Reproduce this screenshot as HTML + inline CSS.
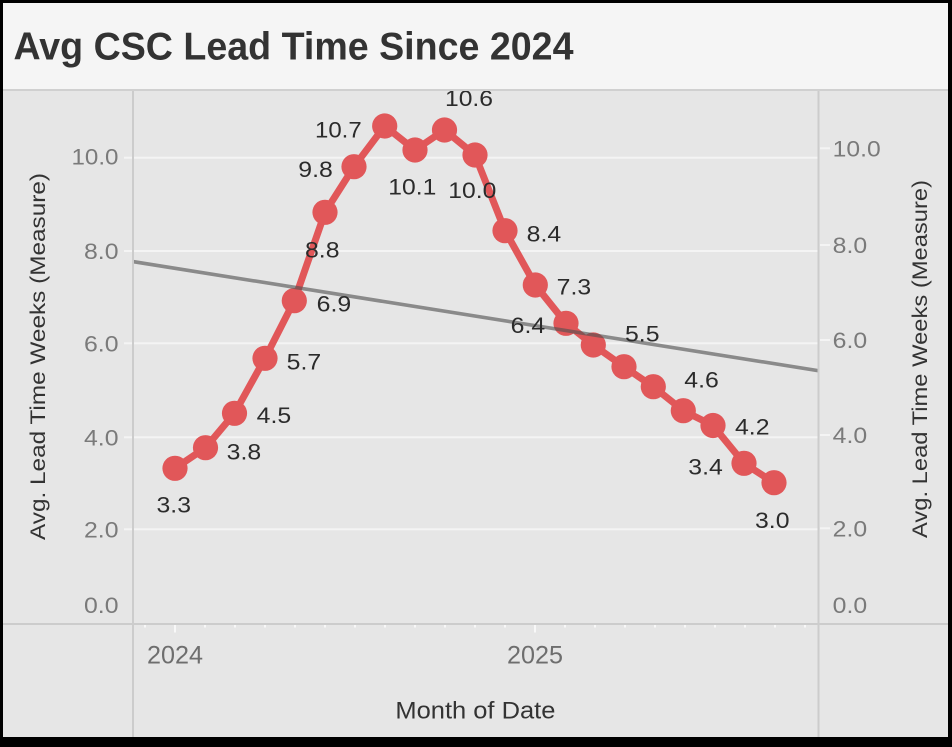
<!DOCTYPE html>
<html><head><meta charset="utf-8"><style>
html,body{margin:0;padding:0;background:#000;}
body{width:952px;height:747px;overflow:hidden;}
svg{display:block;}
text{font-family:"Liberation Sans",sans-serif;}
</style></head><body>
<svg width="952" height="747" viewBox="0 0 952 747" xmlns="http://www.w3.org/2000/svg">
<rect x="0" y="0" width="952" height="747" fill="#000"/>
<rect x="3" y="3" width="945" height="86" fill="#f5f5f5"/>
<rect x="3" y="89" width="945" height="2" fill="#d0d0d0"/>
<rect x="3" y="91" width="945" height="646" fill="#e6e6e6"/>
<text x="13.5" y="59.5" font-size="39" font-weight="bold" fill="#333" textLength="560" lengthAdjust="spacingAndGlyphs">Avg CSC Lead Time Since 2024</text>

<!-- gridlines -->
<g stroke="#f4f4f4" stroke-width="2">
<line x1="134" y1="157.7" x2="818" y2="157.7"/>
<line x1="134" y1="251" x2="818" y2="251"/>
<line x1="134" y1="343.3" x2="818" y2="343.3"/>
<line x1="134" y1="437.3" x2="818" y2="437.3"/>
<line x1="134" y1="529.3" x2="818" y2="529.3"/>
<!-- left ticks -->
<line x1="124" y1="157.7" x2="132" y2="157.7"/>
<line x1="124" y1="251" x2="132" y2="251"/>
<line x1="124" y1="343.3" x2="132" y2="343.3"/>
<line x1="124" y1="437.3" x2="132" y2="437.3"/>
<line x1="124" y1="529.3" x2="132" y2="529.3"/>
<!-- right ticks -->
<line x1="820" y1="148.3" x2="830" y2="148.3"/>
<line x1="820" y1="245" x2="830" y2="245"/>
<line x1="820" y1="340" x2="830" y2="340"/>
<line x1="820" y1="435" x2="830" y2="435"/>
<line x1="820" y1="528.3" x2="830" y2="528.3"/>
</g>

<!-- axis lines -->
<rect x="132" y="91" width="2" height="646" fill="#cccccc"/>
<rect x="817.5" y="91" width="2" height="646" fill="#cccccc"/>
<rect x="3" y="623" width="945" height="2" fill="#cccccc"/>

<!-- x ticks -->
<g stroke="#f8f8f8" stroke-width="2">
<line x1="145" y1="625" x2="145" y2="627.5"/>
<line x1="175" y1="625" x2="175" y2="632.5"/>
<line x1="205" y1="625" x2="205" y2="627.5"/>
<line x1="235" y1="625" x2="235" y2="627.5"/>
<line x1="265" y1="625" x2="265" y2="627.5"/>
<line x1="295" y1="625" x2="295" y2="627.5"/>
<line x1="325" y1="625" x2="325" y2="627.5"/>
<line x1="355" y1="625" x2="355" y2="627.5"/>
<line x1="385" y1="625" x2="385" y2="627.5"/>
<line x1="415" y1="625" x2="415" y2="627.5"/>
<line x1="445" y1="625" x2="445" y2="627.5"/>
<line x1="475" y1="625" x2="475" y2="627.5"/>
<line x1="505" y1="625" x2="505" y2="627.5"/>
<line x1="535" y1="625" x2="535" y2="632.5"/>
<line x1="565" y1="625" x2="565" y2="627.5"/>
<line x1="595" y1="625" x2="595" y2="627.5"/>
<line x1="625" y1="625" x2="625" y2="627.5"/>
<line x1="655" y1="625" x2="655" y2="627.5"/>
<line x1="685" y1="625" x2="685" y2="627.5"/>
<line x1="715" y1="625" x2="715" y2="627.5"/>
<line x1="745" y1="625" x2="745" y2="627.5"/>
<line x1="775" y1="625" x2="775" y2="627.5"/>
<line x1="805" y1="625" x2="805" y2="627.5"/>
</g>

<!-- y tick labels left -->
<g font-size="22" fill="#7a7a7a" text-anchor="end">
<text x="118.5" y="164.7" textLength="47" lengthAdjust="spacingAndGlyphs">10.0</text>
<text x="118.5" y="259" textLength="34.5" lengthAdjust="spacingAndGlyphs">8.0</text>
<text x="118.5" y="351.3" textLength="34.5" lengthAdjust="spacingAndGlyphs">6.0</text>
<text x="118.5" y="445.3" textLength="34.5" lengthAdjust="spacingAndGlyphs">4.0</text>
<text x="118.5" y="537.3" textLength="34.5" lengthAdjust="spacingAndGlyphs">2.0</text>
<text x="118.5" y="613" textLength="34.5" lengthAdjust="spacingAndGlyphs">0.0</text>
</g>
<!-- y tick labels right -->
<g font-size="22" fill="#7a7a7a">
<text x="832.7" y="156.3" textLength="48" lengthAdjust="spacingAndGlyphs">10.0</text>
<text x="832.7" y="253" textLength="34.5" lengthAdjust="spacingAndGlyphs">8.0</text>
<text x="832.7" y="348" textLength="34.5" lengthAdjust="spacingAndGlyphs">6.0</text>
<text x="832.7" y="443" textLength="34.5" lengthAdjust="spacingAndGlyphs">4.0</text>
<text x="832.7" y="536.3" textLength="34.5" lengthAdjust="spacingAndGlyphs">2.0</text>
<text x="832.7" y="613" textLength="34.5" lengthAdjust="spacingAndGlyphs">0.0</text>
</g>

<!-- axis titles -->
<text transform="translate(45,356.5) rotate(-90)" text-anchor="middle" font-size="21" fill="#333" textLength="367" lengthAdjust="spacingAndGlyphs">Avg. Lead Time Weeks (Measure)</text>
<text transform="translate(927,359) rotate(-90)" text-anchor="middle" font-size="21" fill="#333" textLength="358" lengthAdjust="spacingAndGlyphs">Avg. Lead Time Weeks (Measure)</text>

<!-- x labels -->
<g font-size="25" fill="#6e6e6e" text-anchor="middle">
<text x="175" y="663.3" textLength="56" lengthAdjust="spacingAndGlyphs">2024</text>
<text x="535" y="663.3" textLength="56" lengthAdjust="spacingAndGlyphs">2025</text>
</g>
<text x="475.4" y="718.3" text-anchor="middle" font-size="24" fill="#333" textLength="160" lengthAdjust="spacingAndGlyphs">Month of Date</text>

<!-- plot data -->
<defs><clipPath id="pc"><rect x="134" y="91" width="683.5" height="532"/></clipPath></defs>
<g clip-path="url(#pc)">
<polyline fill="none" stroke="#e15759" stroke-width="7" stroke-linejoin="round" stroke-linecap="round"
points="175,468.3 205.5,447.7 234.5,413.3 265,358.3 294.3,300.7 325,212.3 354,166.7 384.7,126 415,150 444.5,130 475,155 505,230.7 535.3,285 566,323.3 593.3,345 624,366.7 653.3,386.7 683.3,410.7 713,425.5 744,463.3 774,482.7"/>
<g fill="#e15759">
<circle cx="175" cy="468.3" r="12.6"/>
<circle cx="205.5" cy="447.7" r="12.6"/>
<circle cx="234.5" cy="413.3" r="12.6"/>
<circle cx="265" cy="358.3" r="12.6"/>
<circle cx="294.3" cy="300.7" r="12.6"/>
<circle cx="325" cy="212.3" r="12.6"/>
<circle cx="354" cy="166.7" r="12.6"/>
<circle cx="384.7" cy="126" r="12.6"/>
<circle cx="415" cy="150" r="12.6"/>
<circle cx="444.5" cy="130" r="12.6"/>
<circle cx="475" cy="155" r="12.6"/>
<circle cx="505" cy="230.7" r="12.6"/>
<circle cx="535.3" cy="285" r="12.6"/>
<circle cx="566" cy="323.3" r="12.6"/>
<circle cx="593.3" cy="345" r="12.6"/>
<circle cx="624" cy="366.7" r="12.6"/>
<circle cx="653.3" cy="386.7" r="12.6"/>
<circle cx="683.3" cy="410.7" r="12.6"/>
<circle cx="713" cy="425.5" r="12.6"/>
<circle cx="744" cy="463.3" r="12.6"/>
<circle cx="774" cy="482.7" r="12.6"/>
</g>
<line x1="133" y1="261.6" x2="818.3" y2="370.7" stroke="#505050" stroke-opacity="0.62" stroke-width="3.6"/>

<g font-size="22" fill="#2b2b2b">
<text x="156.5" y="512.7" textLength="34.5" lengthAdjust="spacingAndGlyphs">3.3</text>
<text x="226.7" y="459.7" textLength="34.5" lengthAdjust="spacingAndGlyphs">3.8</text>
<text x="256.7" y="423" textLength="34.5" lengthAdjust="spacingAndGlyphs">4.5</text>
<text x="286.7" y="369.7" textLength="34.5" lengthAdjust="spacingAndGlyphs">5.7</text>
<text x="316.7" y="311.3" textLength="34.5" lengthAdjust="spacingAndGlyphs">6.9</text>
<text x="305" y="257.3" textLength="34.5" lengthAdjust="spacingAndGlyphs">8.8</text>
<text x="298.3" y="177" textLength="34.5" lengthAdjust="spacingAndGlyphs">9.8</text>
<text x="315" y="137.3" textLength="46.7" lengthAdjust="spacingAndGlyphs">10.7</text>
<text x="388.3" y="194.7" textLength="48" lengthAdjust="spacingAndGlyphs">10.1</text>
<text x="448.3" y="198" textLength="48" lengthAdjust="spacingAndGlyphs">10.0</text>
<text x="445" y="106" textLength="48" lengthAdjust="spacingAndGlyphs">10.6</text>
<text x="526.7" y="241.3" textLength="34.5" lengthAdjust="spacingAndGlyphs">8.4</text>
<text x="556.7" y="294.7" textLength="34.5" lengthAdjust="spacingAndGlyphs">7.3</text>
<text x="510.7" y="333" textLength="34.5" lengthAdjust="spacingAndGlyphs">6.4</text>
<text x="625" y="341.3" textLength="34.5" lengthAdjust="spacingAndGlyphs">5.5</text>
<text x="684.3" y="387.3" textLength="34.5" lengthAdjust="spacingAndGlyphs">4.6</text>
<text x="735" y="434.7" textLength="34.5" lengthAdjust="spacingAndGlyphs">4.2</text>
<text x="688.3" y="474.7" textLength="34.5" lengthAdjust="spacingAndGlyphs">3.4</text>
<text x="755" y="528" textLength="34.5" lengthAdjust="spacingAndGlyphs">3.0</text>
</g>
</g>
</svg>
</body></html>
